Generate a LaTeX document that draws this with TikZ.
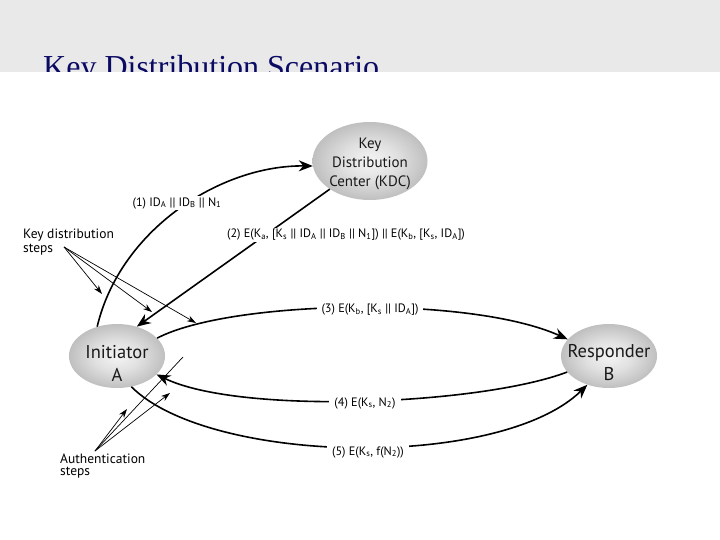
\documentclass[tikz,border=0pt]{standalone}
\usepackage{fontspec}
\setmainfont{PT Sans}
\newfontfamily\titlefont{Liberation Serif}
\usetikzlibrary{arrows.meta,shapes.geometric}
\definecolor{titleblue}{RGB}{10,10,100}
\definecolor{bandgray}{RGB}{233,233,233}
\pgfdeclareradialshading{ballgray}{\pgfpoint{0bp}{0bp}}{color(0bp)=(white!96!black); color(12bp)=(white!88!black); color(28bp)=(white!72!black); color(42bp)=(white!56!black); color(50bp)=(white!47!black)}
\begin{document}
\begin{tikzpicture}[x=1pt,y=-1pt,
  party/.style={ellipse, shading=ballgray, inner sep=0pt},
  partytext/.style={align=center, inner sep=0pt, text=black!90},
  mainarrow/.style={line width=1.6pt, -{Stealth[length=14pt,width=11pt]}},
  pointer/.style={line width=0.7pt, -{Stealth[length=9pt,width=6pt]}},
  thinline/.style={line width=0.7pt},
  msg/.style={fill=white, inner xsep=5pt, inner ysep=1pt, font=\fontsize{12.2}{14}\selectfont},
  note/.style={anchor=base west, inner sep=0pt, font=\fontsize{13.5}{14}\selectfont}]
\useasboundingbox (0,0) rectangle (720,540);
\fill[bandgray] (0,0) rectangle (720,72);
\node[anchor=base west, inner sep=0pt, text=titleblue, font=\titlefont\fontsize{32}{32}\selectfont] (title) at (43,78) {Key Distribution Scenario};
\fill[white] (0,72) rectangle (720,540);

\node[party, minimum width=115pt, minimum height=78pt] (kdc) at (370,161) {};
\node[partytext, font=\fontsize{15}{19}\selectfont] (kdct) at (370,164) {Key\\Distribution\\Center (KDC)};
\node[party, minimum width=96pt, minimum height=64pt] (a) at (117,356) {};
\node[partytext, font=\fontsize{18.5}{23}\selectfont] (at) at (117,363) {Initiator\\A};
\node[party, minimum width=96pt, minimum height=64pt] (b) at (609,356) {};
\node[partytext, font=\fontsize{18.5}{23}\selectfont] (bt) at (609,363) {Responder\\B};

% main messages
\draw[mainarrow] (a.124) .. controls (120,230) and (220,165) .. (kdc.185);
\draw[mainarrow] (kdc.215) -- (a.56);
\draw[mainarrow] (a.24) .. controls (230,300) and (470,295) .. (b.158);
\draw[mainarrow] (b.201) .. controls (480,405) and (240,415) .. (a.335);
\draw[mainarrow] (a.295) .. controls (210,465) and (500,470) .. (b.233);

% pointers
\coordinate (kd) at (64,247);
\coordinate (kd1) at (102,294);
\coordinate (kd2) at (152,312);
\coordinate (kd3) at (196,323);
\draw[pointer] (kd) -- (kd1);
\draw[pointer] (kd) -- (kd2);
\draw[pointer] (kd) -- (kd3);
\coordinate (au) at (95,451);
\coordinate (au1) at (127,409);
\coordinate (au2) at (183,357);
\coordinate (au3) at (170,393);
\draw[pointer] (au) -- (au1);
\draw[thinline] (au) -- (au2);
\draw[pointer] (au) -- (au3);

% labels
\node[msg] (l1) at (177,203) {(1) ID\textsubscript{A} || ID\textsubscript{B} || N\textsubscript{1}};
\node[msg] (l2) at (346,235) {(2) E(K\textsubscript{a}, [K\textsubscript{s} || ID\textsubscript{A} || ID\textsubscript{B} || N\textsubscript{1}]) {\large||} E(K\textsubscript{b}, [K\textsubscript{s}, ID\textsubscript{A}])};
\node[msg] (l3) at (370,310) {(3) E(K\textsubscript{b}, [K\textsubscript{s} || ID\textsubscript{A}])};
\node[msg] (l4) at (365,403) {(4) E(K\textsubscript{s}, N\textsubscript{2})};
\node[msg] (l5) at (368,452) {(5) E(K\textsubscript{s}, f(N\textsubscript{2}))};

\node[note] (kdt1) at (23,239) {Key distribution};
\node[note] (kdt2) at (23,252) {steps};
\node[note] (aut1) at (60,463) {Authentication};
\node[note] (aut2) at (60,475) {steps};
\end{tikzpicture}
\end{document}
